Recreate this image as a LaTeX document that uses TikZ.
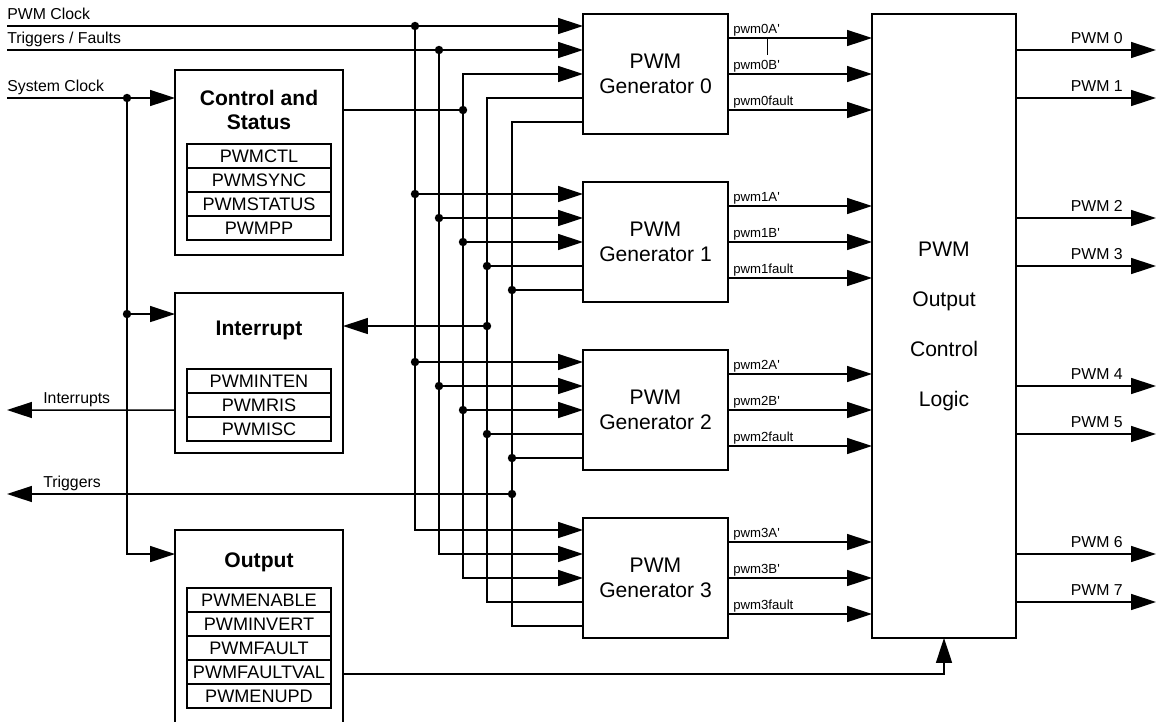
\documentclass[tikz,border=0pt]{standalone}
\usepackage{fontspec}
\setmainfont{Liberation Sans}
\usetikzlibrary{arrows.meta,positioning,calc}
\tikzset{
  % plain connection
  wire/.style={line width=0.85pt},
  % connection ending in a filled head
  sig/.style={wire, -{Triangle[length=0.5cm,width=0.32cm]}},
  % connection with a head at both ends
  sigboth/.style={wire, {Triangle[length=0.5cm,width=0.32cm]}-{Triangle[length=0.5cm,width=0.32cm]}},
  % junction dot
  junction/.style={circle, fill, inner sep=0pt, minimum size=4.8pt},
  % frame of a left-hand block
  blockbox/.style={rectangle, draw, line width=0.85pt, inner sep=0pt, outer sep=0pt, minimum width=3.36cm},
  % pwm generator block
  genbox/.style={rectangle, draw, line width=0.85pt, inner sep=0pt, outer sep=0pt,
                 minimum width=2.9cm, minimum height=2.4cm, align=center, font=\fontsize{12}{14.2}\selectfont},
  % output control logic block
  logicbox/.style={rectangle, draw, line width=0.85pt, inner sep=0pt, outer sep=0pt,
                   minimum width=2.88cm, minimum height=12.48cm, align=center, font=\fontsize{12}{28.45}\selectfont},
  % register row
  regbox/.style={rectangle, draw, line width=0.85pt, inner sep=1pt, outer sep=0pt,
                 minimum width=2.88cm, minimum height=0.48cm, font=\fontsize{10.3}{12}\selectfont},
  % block title
  titletext/.style={font=\bfseries\fontsize{12}{13.65}\selectfont, align=center, inner sep=0pt},
  % generator signal label
  siglabel/.style={font=\fontsize{7.5}{9}\selectfont, inner sep=0pt, anchor=base west},
  % edge label
  edgelabel/.style={font=\fontsize{9}{11}\selectfont, inner sep=0pt, anchor=base west},
  outlabel/.style={edgelabel, anchor=base east},
}
\begin{document}
\begin{tikzpicture}[x=0.02cm, y=-0.02cm]
  \useasboundingbox (0,0) rectangle (1156,721);
  % generator blocks
  \foreach \i/\y in {0/74,1/242,2/410,3/578}
    \node[genbox] (gen\i) at (655.5,\y) {PWM\\Generator \i};
  % output control logic
  \node[logicbox] (logic) at (944,326) {PWM\\Output\\Control\\Logic};

  % control and status block
  \node[blockbox, minimum height=3.7cm] (ctl) at (259,162.5) {};
  \node[titletext] (ctltitle) at (259,110) {Control and\\Status};
  \node[regbox] (pwmctl) at (259,156) {PWMCTL};
  \node[regbox, below=0pt of pwmctl] (pwmsync) {PWMSYNC};
  \node[regbox, below=0pt of pwmsync] (pwmstatus) {PWMSTATUS};
  \node[regbox, below=0pt of pwmstatus] (pwmpp) {PWMPP};
  % interrupt block
  \node[blockbox, minimum height=3.2cm] (int) at (259,373) {};
  \node[titletext, anchor=base] (inttitle) at (259,335) {Interrupt};
  \node[regbox] (pwminten) at (259,381) {PWMINTEN};
  \node[regbox, below=0pt of pwminten] (pwmris) {PWMRIS};
  \node[regbox, below=0pt of pwmris] (pwmisc) {PWMISC};
  % output block
  \node[blockbox, minimum height=4.2cm] (out) at (259,635) {};
  \node[titletext, anchor=base] (outtitle) at (259,567) {Output};
  \node[regbox] (pwmenable) at (259,600) {PWMENABLE};
  \node[regbox, below=0pt of pwmenable] (pwminvert) {PWMINVERT};
  \node[regbox, below=0pt of pwminvert] (pwmfault) {PWMFAULT};
  \node[regbox, below=0pt of pwmfault] (pwmfaultval) {PWMFAULTVAL};
  \node[regbox, below=0pt of pwmfaultval] (pwmenupd) {PWMENUPD};

  % pins and bus columns
  \foreach \i in {0,...,3}
    \foreach \k in {1,...,5}
      \coordinate (in\i\k) at ($(gen\i.west)+(0,{24*(\k-3)})$);
  \foreach \k/\bx in {1/415,2/439,3/463,4/487,5/512}
    \coordinate (bus\k) at (\bx,0);
  \coordinate (leftedge) at (7,0);
  \coordinate (sysbus) at (127,0);
  \coordinate (clkin) at (in01 -| leftedge);
  \coordinate (trgin) at (in02 -| leftedge);
  \coordinate (sysclk) at (7,98);
  \coordinate (intend) at (7,410);
  \coordinate (trgend) at (7,494);
  \coordinate (ctlout) at ($(ctl.north east)+(0,40)$);
  \coordinate (intin) at ($(int.north east)+(0,33)$);
  \coordinate (intclk) at ($(int.north west)+(0,21)$);
  \coordinate (intout) at ($(int.north west)+(0,117)$);
  \coordinate (outclk) at ($(out.north west)+(0,24)$);
  \coordinate (outfault) at ($(out.north east)+(0,144)$);

  % buses down the generators
  \foreach \k in {1,2,3}
    \draw[sigboth] (in0\k) -| (bus\k |- in3\k) -- (in3\k);
  \foreach \k in {4,5}
    \draw[wire] (in0\k) -| (bus\k |- in3\k) -- (in3\k);
  \foreach \i in {1,2}{
    \foreach \k in {1,2,3}
      \draw[sig] (bus\k |- in\i\k) node[junction] (j\i\k) {} -- (in\i\k);
    \foreach \k in {4,5}
      \draw[wire] (in\i\k) -- (bus\k |- in\i\k) node[junction] (j\i\k) {};
  }

  % external inputs
  \draw[wire] (clkin) -- (bus1 |- clkin) node[junction] (jclk) {};
  \draw[wire] (trgin) -- (bus2 |- trgin) node[junction] (jtrg) {};
  \node[edgelabel] (clklbl) at ($(clkin)+(0,-7)$) {PWM Clock};
  \node[edgelabel] (trglbl) at ($(trgin)+(0,-7)$) {Triggers / Faults};
  \draw[wire] (ctlout) -- (bus3 |- ctlout) node[junction] (jctl) {};
  \draw[sig] (bus4 |- intin) node[junction] (jint) {} -- (intin);
  \draw[sig] (bus5 |- trgend) node[junction] (jtrgout) {} -- (trgend);
  \node[edgelabel] (trgoutlbl) at ($(trgend)+(36,-7)$) {Triggers};

  % system clock
  \draw[sig] (sysclk) -- (sysclk -| ctl.west);
  \node[edgelabel] (syslbl) at ($(sysclk)+(0,-7)$) {System Clock};
  \draw[sig] (sysbus |- sysclk) node[junction] (jsys) {} |- (outclk);
  \draw[sig] (sysbus |- intclk) node[junction] (jsysint) {} -- (intclk);
  \draw[sig] (intout) -- (intend);
  \node[edgelabel] (intlbl) at ($(intend)+(36,-7)$) {Interrupts};
  \draw[sig] (outfault) -| (logic.south);

  % generator outputs
  \foreach \i in {0,...,3}
    \foreach \s/\n/\dy in {A\textquotesingle/a/-36,B\textquotesingle/b/0,fault/f/36}{
      \coordinate (o\i\n) at ($(gen\i.east)+(0,\dy)$);
      \draw[sig] (o\i\n) -- (o\i\n -| logic.west);
      \node[siglabel] (lbl\i\n) at ($(o\i\n)+(5,-5)$) {pwm\i\s};
    }
  \coordinate (tick) at ($(o0a)+(39,0)$);
  \draw[line width=0.5pt] (tick) -- ++(0,17);

  % pwm outputs
  \foreach \n/\y in {0/50,1/98,2/218,3/266,4/386,5/434,6/554,7/602}{
    \coordinate (pwm\n) at (1156,\y);
    \draw[sig] (logic.east |- pwm\n) -- (pwm\n);
    \node[outlabel] (pwmlbl\n) at ($(pwm\n)+(-33,-7)$) {PWM \n};
  }
\end{tikzpicture}
\end{document}
